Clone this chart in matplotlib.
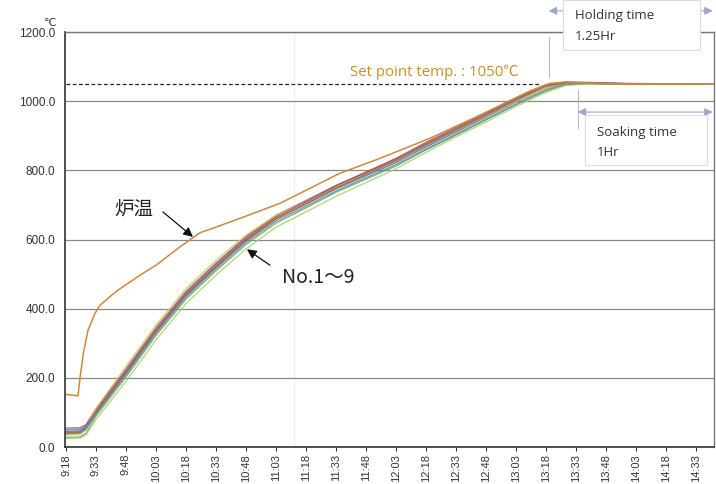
import matplotlib
matplotlib.use("Agg")
import matplotlib.pyplot as plt
from matplotlib.patches import Rectangle

# minutes since 9:18
t = [0, 7, 10, 15, 30, 45, 60, 75, 90, 105, 120, 135, 150, 165, 180, 195,
     210, 225, 240, 250, 260, 280, 300, 325]

# work pieces No.1 ~ 9
no1 = [50, 52, 62, 108, 223, 343, 448, 530, 606, 668, 711, 755, 793, 831, 876, 919, 962, 1006, 1044, 1055, 1054, 1051, 1050, 1050]
no2 = [55, 56, 65, 110, 225, 345, 450, 532, 608, 670, 713, 757, 795, 833, 878, 921, 964, 1007, 1045, 1054, 1053, 1051, 1050, 1050]
no3 = [45, 47, 58, 100, 215, 335, 440, 522, 598, 660, 703, 747, 785, 823, 868, 911, 954, 998, 1038, 1052, 1052, 1050, 1050, 1050]
no4 = [35, 36, 50, 112, 233, 353, 458, 540, 613, 670, 709, 752, 790, 827, 872, 915, 957, 1000, 1038, 1051, 1052, 1050, 1050, 1050]
no5 = [40, 42, 54, 103, 218, 338, 443, 525, 602, 665, 709, 755, 795, 835, 881, 924, 966, 1010, 1048, 1056, 1055, 1052, 1051, 1051]
no6 = [42, 44, 56, 98, 213, 333, 438, 520, 597, 660, 704, 749, 789, 828, 873, 916, 959, 1003, 1044, 1054, 1053, 1051, 1050, 1050]
no7 = [28, 29, 40, 90, 203, 323, 428, 510, 586, 648, 692, 737, 775, 813, 859, 902, 946, 990, 1030, 1048, 1051, 1050, 1050, 1050]
no8 = [25, 26, 35, 80, 190, 310, 415, 497, 573, 636, 680, 725, 765, 805, 852, 897, 940, 985, 1026, 1046, 1050, 1050, 1050, 1050]
no9 = [38, 40, 52, 95, 209, 329, 434, 516, 592, 654, 697, 741, 779, 817, 862, 905, 948, 992, 1033, 1050, 1052, 1050, 1050, 1050]
pieces = [no1, no2, no3, no4, no5, no6, no7, no8, no9]
piece_colors = ["#7a7a7a", "#8a6aa8", "#4a6ab8", "#d8c840", "#c05050",
                "#9a6a40", "#60a860", "#a8d070", "#6a8aa0"]

# furnace temperature
t_f = [0, 3, 6, 7, 8.7, 11, 14.5, 17, 25, 37, 45, 57, 67, 73.5, 90, 107,
       137, 157, 182, 207, 232, 242, 250, 260, 280, 325]
furnace = [152, 150, 148, 200, 272, 338, 387, 410, 450, 497, 526, 579, 620,
           633, 668, 705, 792, 835, 893, 960, 1030, 1052, 1056, 1053, 1050, 1050]

setpoint = 1050
tick_labels = ["9:18", "9:33", "9:48", "10:03", "10:18", "10:33", "10:48",
               "11:03", "11:18", "11:33", "11:48", "12:03", "12:18", "12:33",
               "12:48", "13:03", "13:18", "13:33", "13:48", "14:03", "14:18",
               "14:33"]
cjk = ["Noto Sans CJK JP", "DejaVu Sans"]
box_font = ["Open Sans", "DejaVu Sans"]

fig = plt.figure(figsize=(7.16, 4.84), dpi=100)
ax = fig.add_axes([0.0908, 0.0764, 0.906, 0.857])

for vals, c in zip(pieces, piece_colors):
    ax.plot(t, vals, color=c, lw=1.0, alpha=0.85)
ax.plot(t_f, furnace, color="#cc8a3a", lw=1.1)

# set point
ax.plot([0, 237], [setpoint, setpoint], color="#222222", lw=0.9, ls=(0, (3, 2)))
ax.text(142, 1085, "Set point temp. : 1050\u2103", color="#c8902a",
        fontsize=10.8, va="center", family=["Open Sans", "Noto Sans CJK JP"])

ax.set_xlim(-0.5, 324)
ax.set_ylim(0, 1200)
ax.set_yticks(range(0, 1201, 200))
ax.set_yticklabels(["%.1f" % v for v in range(0, 1201, 200)],
                   family="Liberation Sans")
ax.set_xticks(range(0, 316, 15))
ax.set_xticklabels(tick_labels, rotation=90, family="Liberation Sans")
ax.tick_params(axis="x", labelsize=8, colors="#333333", length=3, pad=2,
               direction="out")
ax.tick_params(axis="y", labelsize=8.5, colors="#333333", length=0, pad=7)
ax.grid(axis="y", color="#888888", lw=0.9)
ax.set_axisbelow(True)
for s in ["left", "bottom"]:
    ax.spines[s].set_color("#333333")
    ax.spines[s].set_linewidth(1.2)
for s in ["top", "right"]:
    ax.spines[s].set_color("#777777")
    ax.spines[s].set_linewidth(1.0)
ax.axvline(114, color="#eeeeee", lw=0.8, zorder=0)

ax.text(-0.023, 1.01, "\u2103", transform=ax.transAxes, fontsize=8,
        color="#333333", ha="center", va="bottom")

# labels with arrows
ax.text(34, 688, "炉温", fontsize=14, family=cjk, ha="center", va="center",
        color="#222222")
ax.annotate("", xy=(63.5, 608), xytext=(48.5, 680),
            arrowprops=dict(arrowstyle="-|>", color="#111111", lw=0.9,
                            shrinkA=0, shrinkB=0, mutation_scale=14))
ax.text(108, 489, "No.1～9", fontsize=14, family=cjk, ha="left", va="center",
        color="#222222")
ax.annotate("", xy=(90.5, 572), xytext=(102, 526),
            arrowprops=dict(arrowstyle="-|>", color="#111111", lw=0.9,
                            shrinkA=0, shrinkB=0, mutation_scale=14))

# holding / soaking time brackets
arrow_c = "#9aa8cc"
ax.plot([241.5, 241.5], [1070, 1186], color="#bbbbbb", lw=0.8, clip_on=False)
ax.annotate("", xy=(323.5, 1262), xytext=(241.5, 1262), annotation_clip=False,
            arrowprops=dict(arrowstyle="<|-|>", color=arrow_c, lw=0.8,
                            shrinkA=0, shrinkB=0, mutation_scale=12))
ax.add_patch(Rectangle((248.5, 1148), 68.5, 145, facecolor="white",
                       edgecolor="#dddddd", lw=0.8, clip_on=False, zorder=5))
ax.text(254.5, 1249, "Holding time", fontsize=9.5, color="#333333",
        va="center", zorder=6, clip_on=False, family=box_font)
ax.text(254.5, 1189, "1.25Hr", fontsize=9.5, color="#333333",
        va="center", zorder=6, clip_on=False, family=box_font)

ax.plot([256, 256], [922, 1032], color="#bbbbbb", lw=0.8)
ax.annotate("", xy=(323.5, 969), xytext=(256, 969), annotation_clip=False,
            arrowprops=dict(arrowstyle="<|-|>", color=arrow_c, lw=0.8,
                            shrinkA=0, shrinkB=0, mutation_scale=12))
ax.add_patch(Rectangle((259.5, 815), 61, 145, facecolor="white",
                       edgecolor="#dddddd", lw=0.8, zorder=5))
ax.text(265.5, 911, "Soaking time", fontsize=9.5, color="#333333",
        va="center", zorder=6, family=box_font)
ax.text(265.5, 853, "1Hr", fontsize=9.5, color="#333333",
        va="center", zorder=6, family=box_font)

fig.savefig("out.png", dpi=100)
